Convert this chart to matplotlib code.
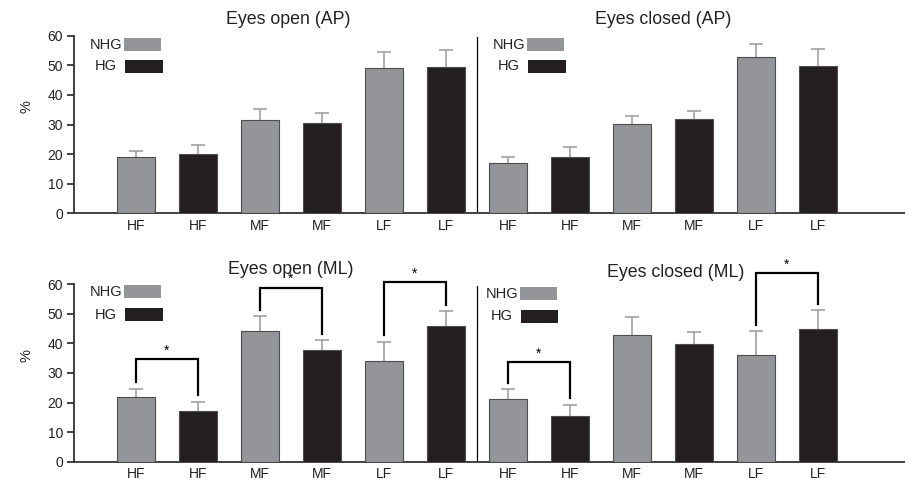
import matplotlib
matplotlib.use("Agg")
import matplotlib.pyplot as plt
from matplotlib.patches import Rectangle

plt.rcParams['font.family'] = ['Liberation Sans', 'DejaVu Sans']

categories = ["HF", "HF", "MF", "MF", "LF", "LF"]
groups = ["NHG", "HG", "NHG", "HG", "NHG", "HG"]

# AP sway: mean and upper SD
ap_open_mean = [19.0, 20.0, 31.4, 30.5, 49.1, 49.5]
ap_open_sd = [2.2, 3.1, 3.7, 3.4, 5.5, 5.8]
ap_closed_mean = [17.0, 19.0, 30.1, 31.8, 52.7, 49.7]
ap_closed_sd = [1.9, 3.5, 2.9, 2.9, 4.4, 5.7]

# ML sway: mean and upper SD
ml_open_mean = [21.7, 17.1, 44.0, 37.9, 34.0, 45.9]
ml_open_sd = [3.0, 3.2, 5.1, 3.1, 6.5, 4.9]
ml_closed_mean = [21.1, 15.5, 42.7, 39.9, 35.9, 44.9]
ml_closed_sd = [3.3, 3.8, 6.1, 3.9, 8.1, 6.3]

# significance brackets: (left bar, right bar, bracket height) over the 12 bars of a row
ml_brackets = [(0, 1, 34.6), (2, 3, 58.8), (4, 5, 60.6), (6, 7, 33.6), (10, 11, 63.6)]
ap_brackets = []

yticks = [0, 10, 20, 30, 40, 50, 60]

GREY = "#939598"
BLACK = "#231f20"
ERR = "#9a9a9a"
TXT = "#222222"
colors = {"NHG": GREY, "HG": BLACK}

fig = plt.figure(figsize=(9.05, 4.83), dpi=100)
W, H = 905.0, 483.0
px_per_unit = 2.96
ymax = 72
x0_px = 74


def make_axes(zero_px):
    bottom = (H - zero_px) / H
    height = ymax * px_per_unit / H
    left = x0_px / W
    width = (W - x0_px) / W
    return fig.add_axes([left, bottom, width, height])


def draw_row(ax, means_l, sd_l, means_r, sd_r, titles, brackets, legend_pos):
    means = list(means_l) + list(means_r)
    sds = list(sd_l) + list(sd_r)
    grp = groups + groups
    xs = list(range(1, len(means) + 1))
    ax.bar(xs, means, width=0.6, color=[colors[g] for g in grp],
           edgecolor="#4d4d4d", linewidth=0.8, zorder=3)
    tops = [m + s for m, s in zip(means, sds)]
    ax.vlines(xs, means, tops, color=ERR, linewidth=1.1, zorder=2)
    ax.hlines(tops, [x - 0.12 for x in xs], [x + 0.12 for x in xs],
              color=ERR, linewidth=1.1, zorder=2)

    gap = 2.2
    for i, j, h in brackets:
        xl, xr = xs[i], xs[j]
        ax.plot([xl, xl, xr, xr], [tops[i] + gap, h, h, tops[j] + gap],
                color="black", linewidth=1.6, solid_joinstyle="miter", zorder=4)
        ax.text((xl + xr) / 2, h + 0.6, "*", ha="center", va="bottom",
                fontsize=10, color="black")

    ax.set_xlim(0, (W - x0_px) / 62.0)
    ax.set_ylim(0, ymax)
    ax.set_yticks(yticks)
    ax.set_xticks(xs)
    ax.set_xticklabels(categories + categories, fontsize=10, color=TXT)
    ax.tick_params(axis="x", length=0, pad=4)
    ax.tick_params(axis="y", direction="out", length=5, width=1.2,
                   labelsize=10, colors=TXT, pad=3)
    for s in ["top", "right"]:
        ax.spines[s].set_visible(False)
    ax.spines["left"].set_bounds(0, 60)
    ax.spines["left"].set_linewidth(1.3)
    ax.spines["bottom"].set_linewidth(1.3)
    ax.spines["left"].set_color("#333333")
    ax.spines["bottom"].set_color("#333333")
    ax.set_ylabel("%", fontsize=10.5, labelpad=10, color=TXT)

    # separator between the two conditions
    ax.plot([6.5, 6.5], [0, 59.5], color="black", linewidth=0.9, zorder=1)

    for (tx, ty, label) in titles:
        ax.text(tx, ty, label, ha="center", va="center", fontsize=12.8,
                color=TXT)

    for (lx, ly_nhg, ly_hg) in legend_pos:
        ax.add_patch(Rectangle((lx, ly_nhg), 0.6, 4.4, facecolor=GREY,
                               edgecolor="none", zorder=3))
        ax.add_patch(Rectangle((lx + 0.02, ly_hg), 0.6, 4.4, facecolor=BLACK,
                               edgecolor="none", zorder=3))
        ax.text(lx - 0.03, ly_nhg + 2.2, "NHG", ha="right", va="center",
                fontsize=10.5, color=TXT)
        ax.text(lx - 0.12, ly_hg + 2.2, "HG", ha="right", va="center",
                fontsize=10.5, color=TXT)


ax_top = make_axes(213.3)
draw_row(ax_top, ap_open_mean, ap_open_sd, ap_closed_mean, ap_closed_sd,
         [(3.45, 65.6, "Eyes open (AP)"), (9.5, 65.6, "Eyes closed (AP)")],
         ap_brackets,
         [(0.81, 54.8, 47.4), (7.31, 54.8, 47.4)])

ax_bot = make_axes(461.7)
draw_row(ax_bot, ml_open_mean, ml_open_sd, ml_closed_mean, ml_closed_sd,
         [(3.5, 65.0, "Eyes open (ML)"), (9.7, 64.0, "Eyes closed (ML)")],
         ml_brackets,
         [(0.81, 55.3, 47.5), (7.19, 54.5, 46.9)])

fig.savefig("out.png", dpi=100)
